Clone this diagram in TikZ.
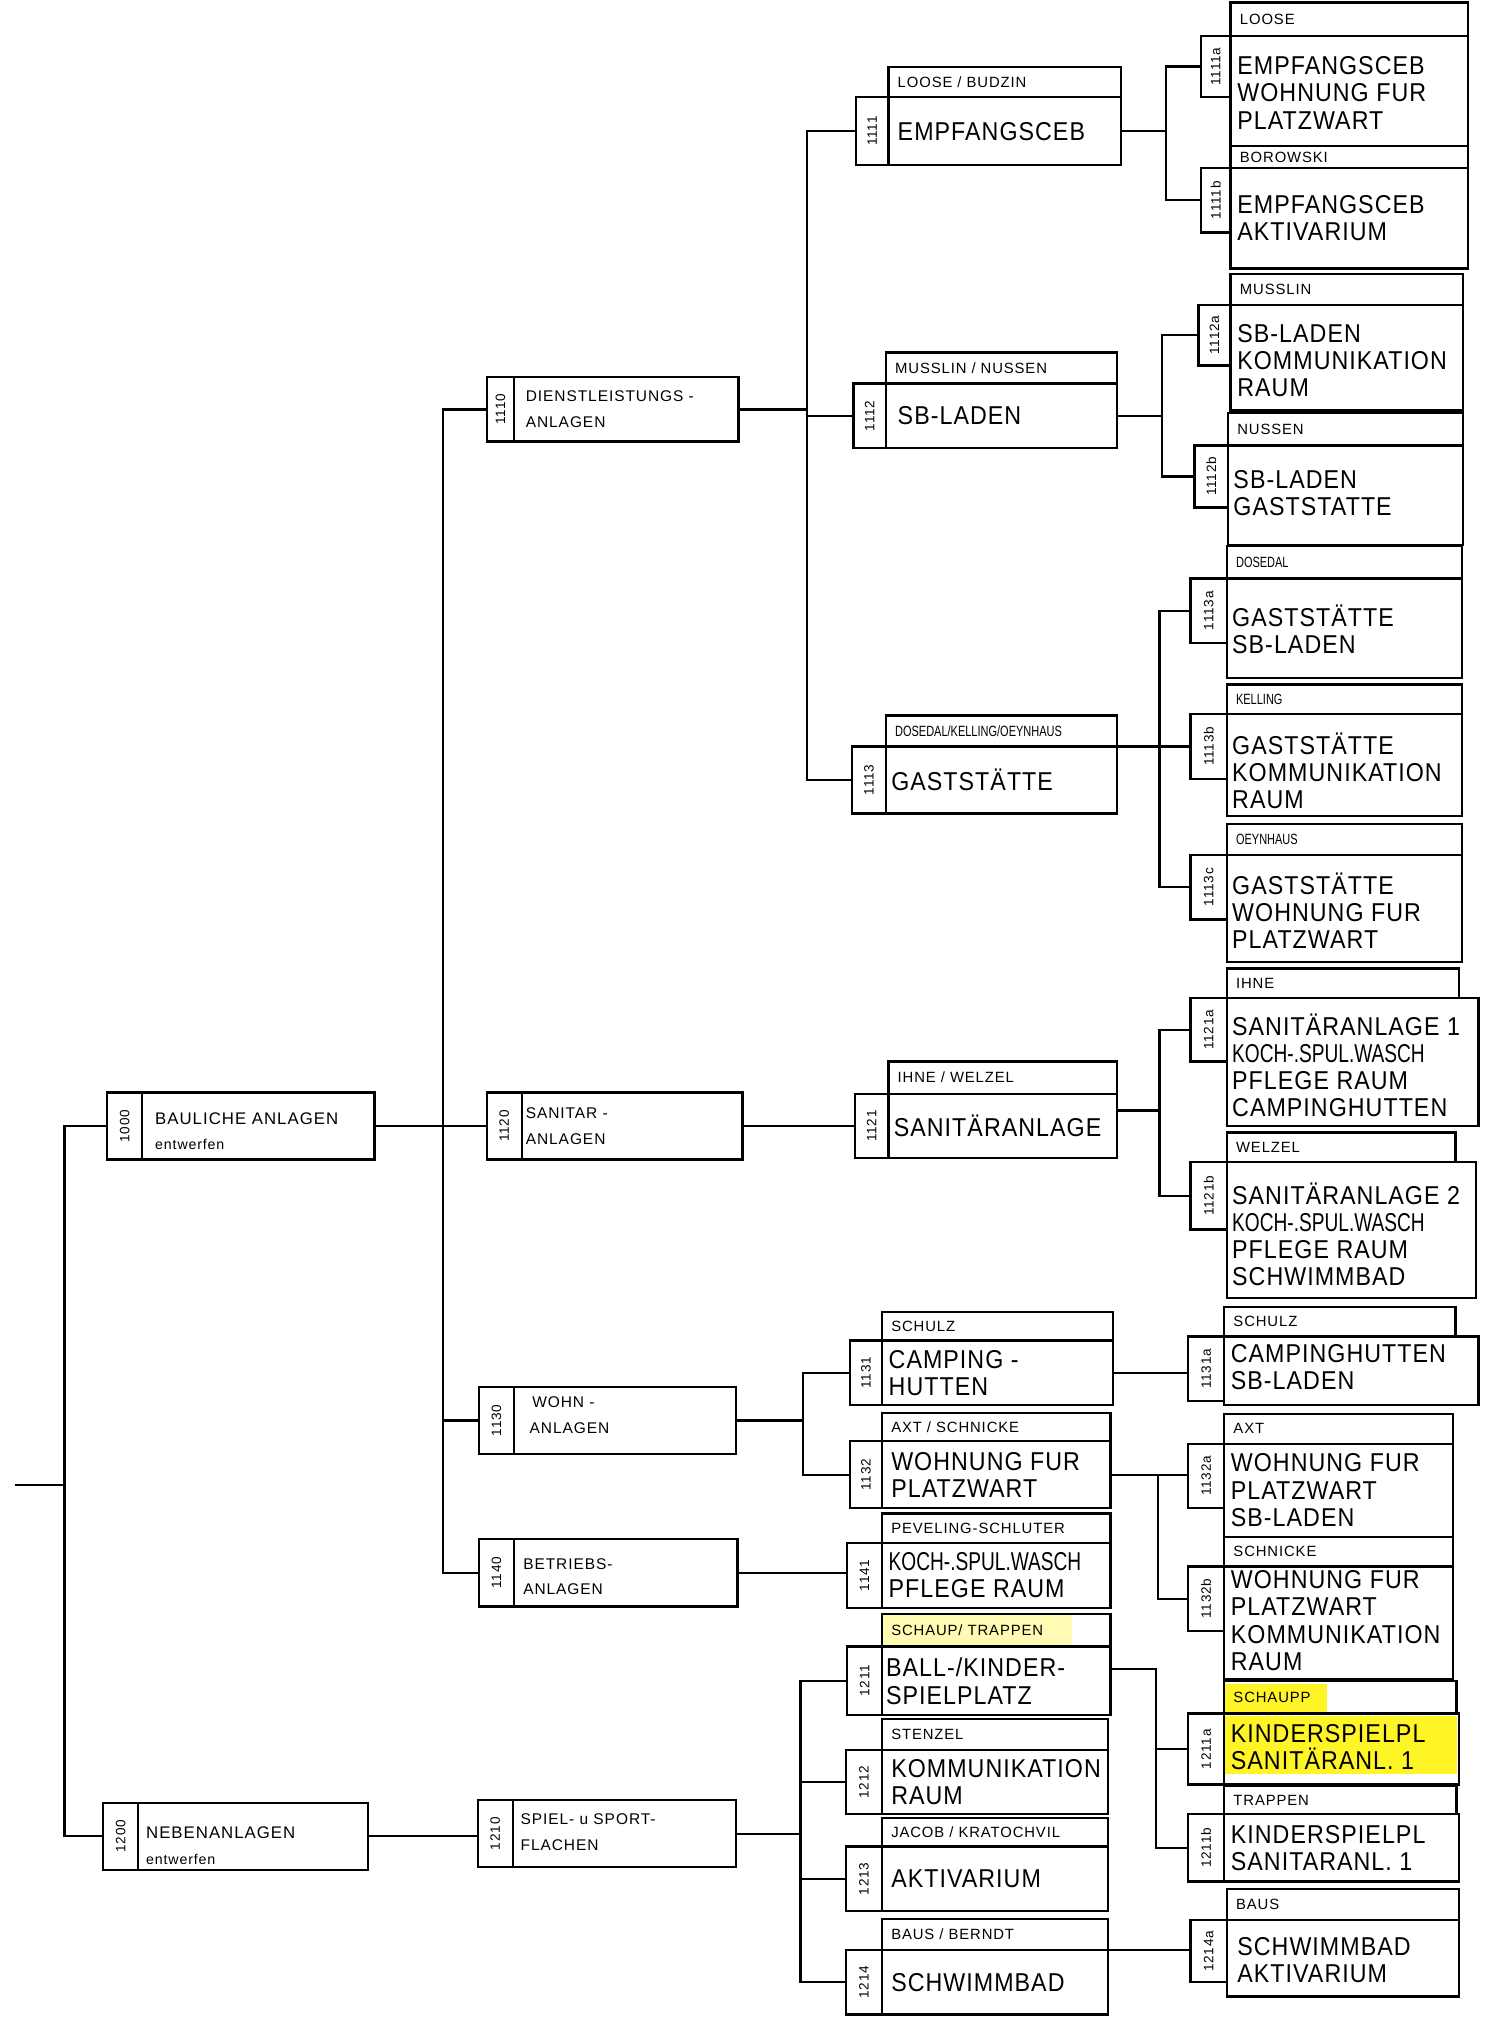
\documentclass[tikz,border=0pt]{standalone}
\usepackage{fontspec}
\setmainfont{Liberation Sans}
\newfontfamily\grossfont{Liberation Sans}[FakeStretch=0.9,LetterSpace=4]
\newfontfamily\engfont{Liberation Sans}[FakeStretch=0.74]
\newfontfamily\kopffont{Liberation Sans}[LetterSpace=6]

\tikzset{
  zelle/.style={draw, line width=1.8pt, inner sep=0pt, outer sep=0pt},
  linie/.style={line width=1.8pt},
  nummer/.style={rotate=90, inner sep=0pt, font=\kopffont\fontsize{10.5}{11}\selectfont},
  kopftext/.style={anchor=west, inner sep=0pt, font=\kopffont\fontsize{11.5}{12}\selectfont},
  grosstext/.style={anchor=west, inner sep=0pt, align=left, font=\grossfont\fontsize{20}{21}\selectfont},
  mitteltext/.style={anchor=west, inner sep=0pt, align=left, font=\kopffont\fontsize{12}{20}\selectfont},
  marker/.style={fill=yellow!85!white, draw=none},
}

% box: name, x code, x text, x right, y top, y bottom, y bottom of code cell
\newcommand{\kasten}[7]{%
  \node[zelle, anchor=north west, minimum width={(#3-#2)*1pt}, minimum height={(#7-#5)*1pt}] (c#1) at (#2,#5) {};
  \node[nummer] (n#1) at (c#1.center) {#1};
  \node[zelle, anchor=north west, minimum width={(#4-#3)*1pt}, minimum height={(#6-#5)*1pt}] (m#1) at (#3,#5) {};
}
% header: name, x left, x right, y top, y bottom, text
\newcommand{\kopf}[6]{%
  \node[zelle, anchor=north west, minimum width={(#3-#2)*1pt}, minimum height={(#5-#4)*1pt}] (k#1) at (#2,#4) {};
  \node[kopftext, xshift=7pt] (kt#1) at (k#1.west) {#6};
}

\begin{document}
\begin{tikzpicture}[x=1pt, y=-1pt]
    \useasboundingbox (0,0) rectangle (1160,1579);
    \fill[white] (0,0) rectangle (1160,1579);

    % marker
    \fill[marker] (948,1304) rectangle (1028,1326);
    \fill[marker] (948,1329) rectangle (1128,1374);
    \fill[yellow!30] (684,1251) rectangle (830,1274);

    % level 1 and 2
    \kasten{1000}{83}{110}{290}{846}{898}{898}
    \kasten{1200}{80}{107}{285}{1396}{1448}{1448}
    \kasten{1110}{377}{398}{572}{292}{342}{342}
    \kasten{1120}{377}{404}{575}{846}{898}{898}
    \kasten{1130}{371}{398}{570}{1074}{1126}{1126}
    \kasten{1140}{371}{398}{571}{1192}{1244}{1244}
    \kasten{1210}{370}{397}{570}{1394}{1446}{1446}
    \node[mitteltext] (t1000) at (120,876) {\fontsize{13}{20}\selectfont BAULICHE ANLAGEN\\{\fontsize{11}{20}\selectfont entwerfen}};
    \node[mitteltext] (t1200) at (113,1429) {\fontsize{13}{20}\selectfont NEBENANLAGEN\\{\fontsize{11}{20}\selectfont entwerfen}};
    \node[mitteltext] (t1110) at (407,317) {DIENSTLEISTUNGS -\\ANLAGEN};
    \node[mitteltext] (t1120) at (407,872) {SANITAR -\\ANLAGEN};
    \node[mitteltext] (t1130) at (410,1096) {\hspace{2pt}WOHN -\\ANLAGEN};
    \node[mitteltext] (t1140) at (405,1221) {BETRIEBS-\\ANLAGEN};
    \node[mitteltext] (t1210) at (403,1419) {SPIEL- u SPORT-\\FLACHEN};

    % level 3
    \kopf{1111}{688}{868}{52}{75}{LOOSE / BUDZIN}
    \kasten{1111}{663}{688}{868}{75}{128}{128}
    \kopf{1112}{686}{865}{273}{297}{MUSSLIN / NUSSEN}
    \kasten{1112}{661}{686}{865}{297}{347}{347}
    \kopf{1113}{686}{865}{554}{578}{\engfont DOSEDAL/KELLING/OEYNHAUS}
    \kasten{1113}{660}{686}{865}{578}{630}{630}
    \kopf{1121}{688}{865}{822}{847}{IHNE / WELZEL}
    \kasten{1121}{662}{688}{865}{847}{897}{897}
    \kopf{1131}{683}{862}{1016}{1038}{SCHULZ}
    \kasten{1131}{658}{683}{862}{1038}{1088}{1088}
    \kopf{1132}{683}{860}{1094}{1116}{AXT / SCHNICKE}
    \kasten{1132}{658}{683}{860}{1116}{1168}{1168}
    \kopf{1141}{683}{860}{1172}{1195}{PEVELING-SCHLUTER}
    \kasten{1141}{656}{683}{860}{1195}{1245}{1245}
    \kopf{1211}{683}{860}{1250}{1275}{SCHAUP/ TRAPPEN}
    \kasten{1211}{656}{683}{860}{1275}{1328}{1328}
    \kopf{1212}{683}{858}{1331}{1355}{STENZEL}
    \kasten{1212}{655}{683}{858}{1355}{1405}{1405}
    \kopf{1213}{683}{858}{1408}{1430}{JACOB / KRATOCHVIL}
    \kasten{1213}{655}{683}{858}{1430}{1480}{1480}
    \kopf{1214}{683}{858}{1486}{1510}{BAUS / BERNDT}
    \kasten{1214}{655}{683}{858}{1510}{1560}{1560}
    \node[grosstext] (t1111) at (695,102) {EMPFANGSCEB};
    \node[grosstext] (t1112) at (695,322) {SB-LADEN};
    \node[grosstext] (t1113) at (690,604) {GASTSTÄTTE};
    \node[grosstext] (t1121) at (692,872) {SANITÄRANLAGE};
    \node[grosstext] (t1131) at (688,1063) {CAMPING -\\HUTTEN};
    \node[grosstext] (t1132) at (690,1142) {WOHNUNG FUR\\PLATZWART};
    \node[grosstext] (t1141) at (688,1220) {{\engfont KOCH-.SPUL.WASCH}\\PFLEGE RAUM};
    \node[grosstext] (t1211) at (686,1302) {BALL-/KINDER-\\SPIELPLATZ};
    \node[grosstext] (t1212) at (690,1380) {KOMMUNIKATION\\RAUM};
    \node[grosstext] (t1213) at (690,1455) {AKTIVARIUM};
    \node[grosstext] (t1214) at (690,1535) {SCHWIMMBAD};

    % level 4
    \kopf{1111a}{953}{1137}{2}{28}{LOOSE}
    \kasten{1111a}{930}{953}{1137}{28}{113}{75}
    \kopf{1111b}{953}{1137}{113}{130}{BOROWSKI}
    \kasten{1111b}{930}{953}{1137}{130}{208}{180}
    \kopf{1112a}{953}{1133}{212}{236}{MUSSLIN}
    \kasten{1112a}{928}{953}{1133}{236}{318}{283}
    \kopf{1112b}{951}{1133}{320}{345}{NUSSEN}
    \kasten{1112b}{925}{951}{1133}{345}{422}{393}
    \kopf{1113a}{950}{1132}{423}{448}{\engfont DOSEDAL}
    \kasten{1113a}{922}{950}{1132}{448}{525}{498}
    \kopf{1113b}{950}{1132}{530}{553}{\engfont KELLING}
    \kasten{1113b}{922}{950}{1132}{553}{632}{603}
    \kopf{1113c}{950}{1132}{638}{662}{\engfont OEYNHAUS}
    \kasten{1113c}{922}{950}{1132}{662}{745}{712}
    \kopf{1121a}{950}{1130}{750}{773}{IHNE}
    \kasten{1121a}{922}{950}{1145}{773}{872}{822}
    \kopf{1121b}{950}{1127}{877}{900}{WELZEL}
    \kasten{1121b}{922}{950}{1143}{900}{1005}{952}
    \kopf{1131a}{948}{1127}{1012}{1035}{SCHULZ}
    \kasten{1131a}{920}{948}{1145}{1035}{1088}{1085}
    \kopf{1132a}{948}{1125}{1095}{1118}{AXT}
    \kasten{1132a}{920}{948}{1125}{1118}{1190}{1168}
    \kopf{1132b}{948}{1125}{1190}{1213}{SCHNICKE}
    \kasten{1132b}{920}{948}{1125}{1213}{1300}{1263}
    \kopf{1211a}{948}{1128}{1302}{1327}{SCHAUPP}
    \kasten{1211a}{920}{948}{1130}{1327}{1382}{1382}
    \kopf{1211b}{948}{1128}{1383}{1405}{TRAPPEN}
    \kasten{1211b}{920}{948}{1130}{1405}{1457}{1457}
    \kopf{1214a}{950}{1130}{1463}{1487}{BAUS}
    \kasten{1214a}{922}{950}{1130}{1487}{1546}{1535}
    \node[grosstext] (t1111a) at (958,72) {EMPFANGSCEB\\WOHNUNG FUR\\PLATZWART};
    \node[grosstext] (t1111b) at (958,169) {EMPFANGSCEB\\AKTIVARIUM};
    \node[grosstext] (t1112a) at (958,279) {SB-LADEN\\KOMMUNIKATION\\RAUM};
    \node[grosstext] (t1112b) at (955,382) {SB-LADEN\\GASTSTATTE};
    \node[grosstext] (t1113a) at (954,487) {GASTSTÄTTE\\SB-LADEN};
    \node[grosstext] (t1113b) at (954,597) {GASTSTÄTTE\\KOMMUNIKATION\\RAUM};
    \node[grosstext] (t1113c) at (954,705) {GASTSTÄTTE\\WOHNUNG FUR\\PLATZWART};
    \node[grosstext] (t1121a) at (954,825) {SANITÄRANLAGE 1\\{\engfont KOCH-.SPUL.WASCH}\\PFLEGE RAUM\\CAMPINGHUTTEN};
    \node[grosstext] (t1121b) at (954,956) {SANITÄRANLAGE 2\\{\engfont KOCH-.SPUL.WASCH}\\PFLEGE RAUM\\SCHWIMMBAD};
    \node[grosstext] (t1131a) at (953,1059) {CAMPINGHUTTEN\\SB-LADEN};
    \node[grosstext] (t1132a) at (953,1154) {WOHNUNG FUR\\PLATZWART\\SB-LADEN};
    \node[grosstext] (t1132b) at (953,1255) {WOHNUNG FUR\\PLATZWART\\KOMMUNIKATION\\RAUM};
    \node[grosstext] (t1211a) at (953,1353) {KINDERSPIELPL\\SANITÄRANL. 1};
    \node[grosstext] (t1211b) at (953,1431) {KINDERSPIELPL\\SANITARANL. 1};
    \node[grosstext] (t1214a) at (958,1518) {SCHWIMMBAD\\AKTIVARIUM};

    % connectors
    \coordinate (wurzel) at (12,1150);
    \coordinate (j0) at (50,1150);
    \draw[linie] (wurzel) -- (j0);
    \draw[linie] (c1000.west) -| (j0) |- (c1200.west);

    \coordinate (j1) at (343,0);
    \draw[linie] (m1000.east) -- (c1120.west);
    \draw[linie] (c1110.west) -| (j1 |- m1000.east) |- (c1140.west);
    \draw[linie] (c1130.west) -- (c1130.west -| j1);
    \draw[linie] (m1200.east) -- (c1210.west |- m1200.east);

    \coordinate (j1110) at (625,0);
    \draw[linie] (m1110.east) -- (m1110.east -| j1110);
    \draw[linie] (c1111.west) -| (j1110 |- m1110.east) |- (c1113.west);
    \draw[linie] (c1112.west) -- (c1112.west -| j1110);
    \draw[linie] (m1120.east) -- (c1121.west);
    \coordinate (j1130) at (622,0);
    \draw[linie] (m1130.east) -- (m1130.east -| j1130);
    \draw[linie] (c1131.west) -| (j1130 |- m1130.east) |- (c1132.west);
    \draw[linie] (m1140.east) -- (c1141.west |- m1140.east);
    \coordinate (j1210) at (620,0);
    \draw[linie] (m1210.east) -- (m1210.east -| j1210);
    \draw[linie] (c1211.west) -| (j1210 |- m1210.east) |- (c1214.west);
    \draw[linie] (c1212.west) -- (c1212.west -| j1210);
    \draw[linie] (c1213.west) -- (c1213.west -| j1210);

    \coordinate (j1111) at (903,0);
    \draw[linie] (m1111.east) -- (m1111.east -| j1111);
    \draw[linie] (c1111a.west) -| (j1111 |- m1111.east) |- (c1111b.west);
    \coordinate (j1112) at (900,0);
    \draw[linie] (m1112.east) -- (m1112.east -| j1112);
    \draw[linie] (c1112a.west) -| (j1112 |- m1112.east) |- (c1112b.west);
    \coordinate (j1113) at (898,0);
    \draw[linie] (m1113.north east) -- (c1113b.west |- m1113.north east);
    \draw[linie] (c1113a.west) -| (j1113 |- m1113.north east) |- (c1113c.west);
    \coordinate (j1121) at (898,0);
    \coordinate (a1121) at ([yshift=12pt]m1121.east);
    \draw[linie] (a1121) -- (a1121 -| j1121);
    \draw[linie] (c1121a.west) -| (j1121 |- a1121) |- (c1121b.west);
    \draw[linie] (m1131.east) -- (c1131a.west |- m1131.east);
    \coordinate (j1132) at (897,0);
    \draw[linie] (m1132.east) -- (c1132a.west |- m1132.east);
    \draw[linie] (m1132.east -| j1132) |- (c1132b.west);
    \coordinate (j1211) at (895,0);
    \coordinate (a1211) at ([yshift=9pt]m1211.east);
    \draw[linie] (a1211) -| (j1211 |- c1211b.west) -- (c1211b.west);
    \draw[linie] (c1211a.west) -- (c1211a.west -| j1211);
    \draw[linie] (m1214.north east) -- (c1214a.west |- m1214.north east);
\end{tikzpicture}
\end{document}
